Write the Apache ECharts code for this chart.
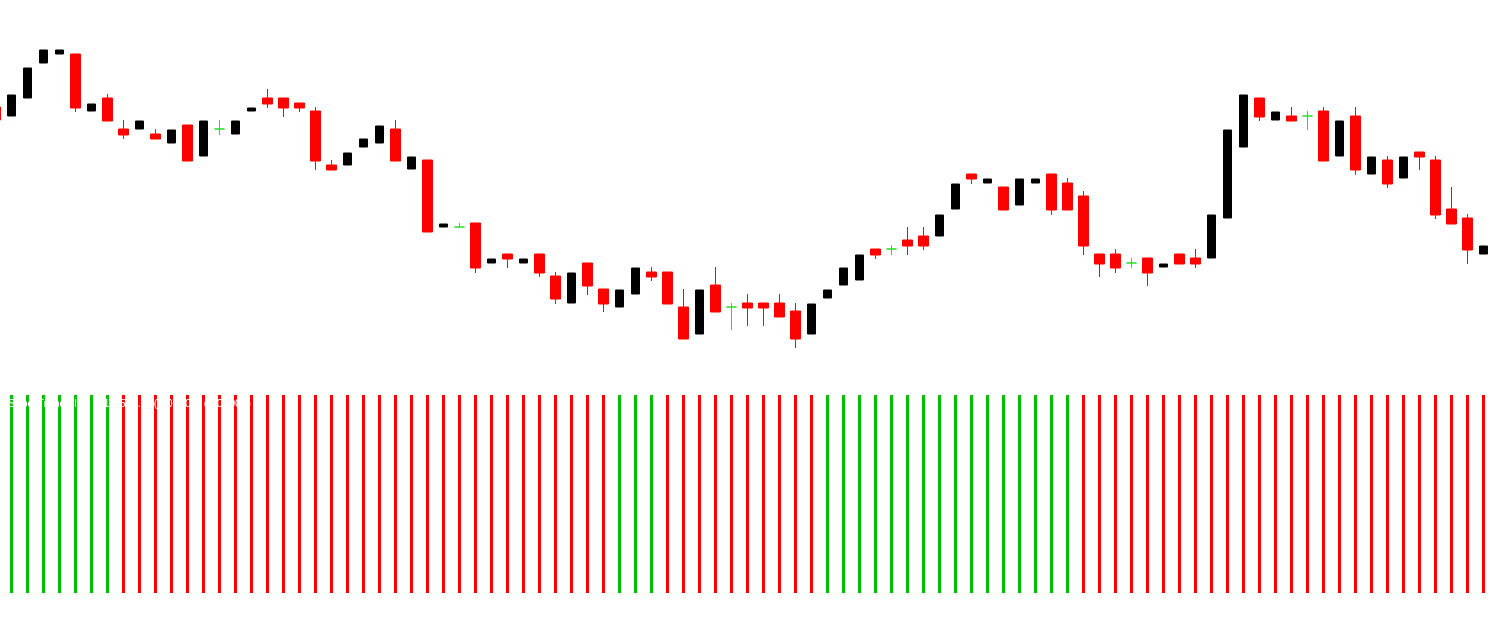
<!DOCTYPE html>
<html>
<head>
<meta charset="utf-8">
<script src="https://cdn.jsdelivr.net/npm/echarts@6/dist/echarts.min.js"></script>
<style>
html,body{margin:0;padding:0;background:#fff;overflow:hidden;width:1497px;height:620px;}
#chart{position:absolute;left:-13px;top:0;width:1510px;height:620px;}
</style>
</head>
<body>
<div id="chart"></div>
<script>
// Price values (points), one per bar
const opens = [293,284,302,337,346,346,289,302,271,271,
266,257,275,244,271,266,289,302,302,297,
289,235,235,253,257,271,231,240,173,173,
177,137,146,137,146,124,97,137,111,93,
106,128,128,93,66,115,93,97,97,97,
89,66,102,115,120,151,151,160,164,164,
191,226,217,213,195,217,226,217,204,146,
146,137,142,133,146,142,142,182,253,302,
280,284,284,289,244,284,226,240,222,248,
240,191,182,146];
const closes = [280,305,332,350,350,292,296,279,265,279,
261,270,239,279,271,279,292,296,292,292,
239,230,247,261,274,239,243,168,176,173,
132,141,141,141,127,101,127,114,96,110,
132,123,96,61,110,88,93,92,92,83,
61,96,110,132,145,145,151,154,154,185,
216,221,221,190,221,221,190,190,154,136,
132,137,127,136,136,136,185,270,305,283,
288,279,284,239,279,230,243,216,243,243,
185,176,150,154];
const highs = [293,305,332,350,350,346,296,306,280,279,
271,270,275,279,280,279,292,311,302,297,
293,240,247,261,274,280,243,240,176,177,
177,141,146,141,146,128,127,137,111,110,
132,133,128,111,110,133,97,106,97,106,
97,96,110,132,145,151,155,173,173,185,
216,226,221,213,221,221,226,222,209,146,
151,142,142,136,146,151,185,270,305,302,
288,293,289,293,279,293,243,244,243,248,
244,213,186,154];
const lows = [280,284,302,337,346,288,289,279,261,271,
261,257,239,244,265,266,289,292,283,288,
230,230,235,253,257,239,231,168,173,173,
127,137,132,137,123,96,97,105,88,93,
106,119,96,61,66,88,70,74,74,83,
52,66,102,115,120,141,145,145,150,164,
191,216,217,190,195,217,185,190,145,123,
127,132,114,133,136,132,142,182,253,279,
280,279,270,239,244,225,226,212,222,230,
181,176,136,146];
// Trend filter signal per bar (1 = up / green, -1 = down / red, null = none)
const trend = [null,1,1,1,1,1,1,1,-1,-1,
-1,-1,-1,-1,-1,-1,-1,-1,-1,-1,
-1,-1,-1,-1,-1,-1,-1,-1,-1,-1,
-1,-1,-1,-1,-1,-1,-1,-1,-1,1,
1,1,-1,-1,-1,-1,-1,-1,-1,-1,
-1,-1,1,1,1,1,1,1,1,1,
1,1,1,1,1,1,1,1,-1,-1,
-1,-1,-1,-1,-1,-1,-1,-1,-1,-1,
-1,-1,-1,-1,-1,-1,-1,-1,-1,-1,
-1,-1,-1,-1];
const categories = opens.map((_, i) => 'Bar ' + (i + 1));
const indicatorLabel = 'SuperTrend filter [H1] (5, 3.0) (0.00000) (0.00000)';

const upData = [], downData = [], dojiData = [];
for (let i = 0; i < opens.length; i++) {
  const d = [opens[i], closes[i], lows[i], highs[i]];
  const blank = '-';
  upData.push(closes[i] > opens[i] ? d : blank);
  downData.push(closes[i] < opens[i] ? d : blank);
  dojiData.push(closes[i] === opens[i] ? d : blank);
}
const GREEN = '#00c000', RED = '#ff0000', DOJI = '#22e022';
const barData = trend.map(t => t === null ? '-' : {
  value: 1,
  itemStyle: { color: t > 0 ? GREEN : RED }
});

const chart = echarts.init(document.getElementById('chart'), null, { renderer: 'canvas' });
chart.setOption({
  animation: false,
  backgroundColor: '#ffffff',
  grid: [
    { left: 0.5, width: 1504, top: 0, height: 400 },
    { left: 0.5, width: 1504, top: 395, height: 198 }
  ],
  xAxis: [
    { type: 'category', data: categories, gridIndex: 0, show: false, boundaryGap: true },
    { type: 'category', data: categories, gridIndex: 1, show: false, boundaryGap: true }
  ],
  yAxis: [
    { type: 'value', gridIndex: 0, min: 0, max: 400, show: false, splitLine: { show: false } },
    { type: 'value', gridIndex: 1, min: 0, max: 1, show: false, splitLine: { show: false } }
  ],
  series: [
    {
      name: 'Up', type: 'candlestick', xAxisIndex: 0, yAxisIndex: 0,
      data: upData, barWidth: 8,
      itemStyle: { color: '#000', color0: '#000', borderColor: '#000', borderColor0: '#000', borderWidth: 1 }
    },
    {
      name: 'Down', type: 'candlestick', xAxisIndex: 0, yAxisIndex: 0,
      data: downData, barWidth: 10,
      itemStyle: { color: RED, color0: RED, borderColor: RED, borderColor0: RED, borderWidth: 1 }
    },
    {
      name: 'Doji', type: 'candlestick', xAxisIndex: 0, yAxisIndex: 0,
      data: dojiData, barWidth: 10,
      itemStyle: { color: DOJI, color0: DOJI, borderColor: DOJI, borderColor0: DOJI, borderColorDoji: DOJI, borderWidth: 1 }
    },
    {
      name: 'Trend', type: 'bar', xAxisIndex: 1, yAxisIndex: 1,
      data: barData, barWidth: 3
    }
  ],
  graphic: [
    {
      type: 'text', left: 21, top: 398, z: 100,
      style: { text: indicatorLabel, fill: '#ffffff', font: '11px "Liberation Sans", Arial, sans-serif' }
    }
  ]
});
</script>
</body>
</html>
